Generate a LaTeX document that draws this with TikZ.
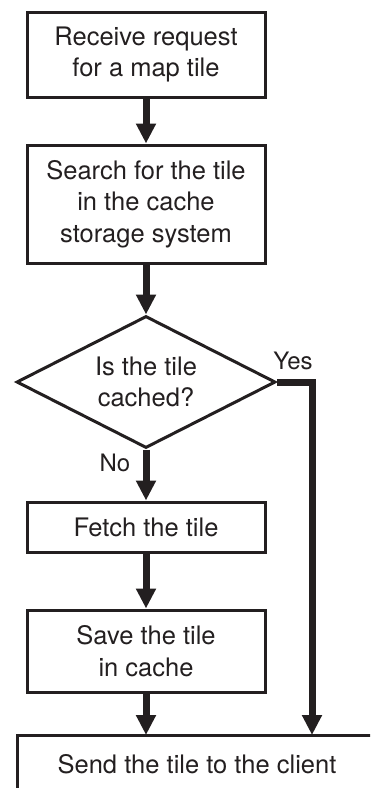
\documentclass[tikz,border=0pt]{standalone}
\usepackage{fontspec}
\setmainfont{TeX Gyre Heros}
\usetikzlibrary{shapes.geometric,arrows.meta}
\definecolor{ink}{HTML}{231F20}
\begin{document}
\begin{tikzpicture}[x=1pt,y=-1pt,
  every node/.style={font=\fontsize{25.5}{31.5}\selectfont, align=center, text=ink},
  procbox/.style={draw=ink, line width=3pt, minimum width=238pt, inner sep=0pt},
  decision/.style={draw=ink, shape=diamond, line width=3pt, aspect=1.96, minimum width=259pt, minimum height=132pt, inner sep=0pt},
  flow/.style={draw=ink, line width=7pt, -{Triangle[width=19pt,length=20pt]}},
  lbl/.style={font=\fontsize{24}{28}\selectfont}
]
\useasboundingbox (0,0) rectangle (370,788);
\clip (0,0) rectangle (370,788);
\node[procbox, minimum height=85pt] (recv) at (146,54.5) {Receive request\\for a map tile};
\node[procbox, minimum height=118pt] (search) at (146,204) {Search for the tile\\in the cache\\storage system};
\node[decision] (dec) at (146,382) {Is the tile\\cached?};
\node[procbox, minimum height=50pt] (fetch) at (146,527) {Fetch the tile};
\node[procbox, minimum height=82pt] (save) at (146,651) {Save the tile\\in cache};
\node[minimum width=360pt, minimum height=58pt, inner sep=0pt, outer sep=0pt] (send) at (197,764) {Send the tile to the client};
\draw[ink, line width=3pt] ([yshift=-60pt]send.north west) -- (send.north west) -- ([xshift=60pt]send.north east);
\node[lbl] (yes) at (293,361) {Yes};
\node[lbl] (no) at (115,463) {No};
\coordinate (yc) at (312,382);
\draw[flow] (recv) -- (search);
\draw[flow] (search) -- (dec);
\draw[flow] (dec) -- (fetch);
\draw[flow] (fetch) -- (save);
\draw[flow] (save) -- (save |- send.north);
\draw[flow] (dec.east) -- (yc) -- (yc |- send.north);
\end{tikzpicture}
\end{document}
